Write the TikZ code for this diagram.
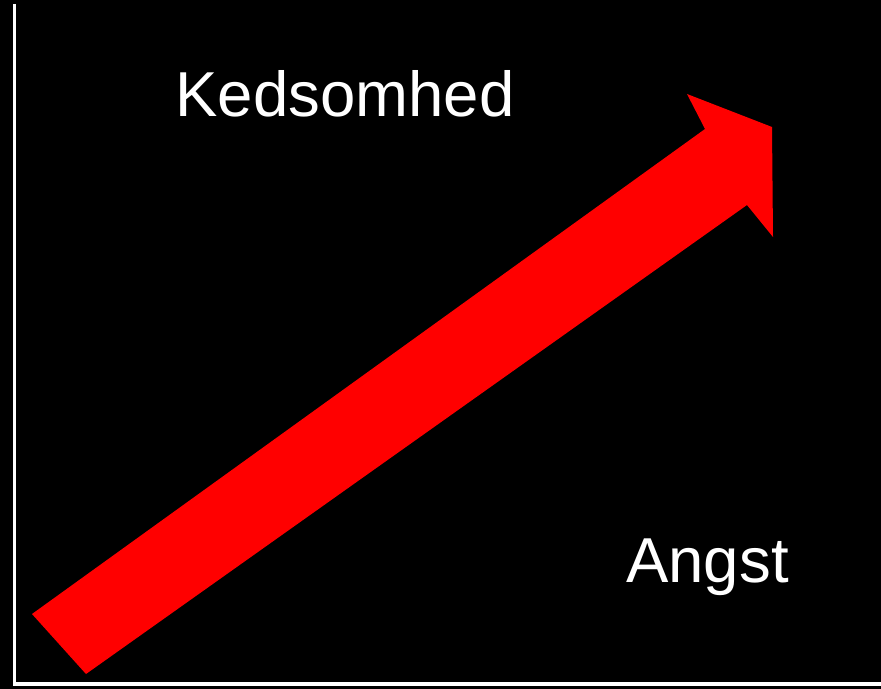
\documentclass[tikz,border=0pt]{standalone}
\usepackage{fontspec}
\setmainfont{Liberation Sans}
\begin{document}
\begin{tikzpicture}[x=1bp,y=-1bp,
  lbl/.style={text=white,anchor=base,inner sep=0pt,font=\fontsize{63.5bp}{63.5bp}\selectfont},
  axis/.style={draw=white,line width=3.6bp},
  bigarrow/.style={fill=red,draw=none}]
\fill[black] (0,0) rectangle (881,689);
\useasboundingbox (0,0) rectangle (881,689);
\coordinate (top) at (14.5,4);
\coordinate (origin) at (14.5,684);
\coordinate (right) at (881,684);
\draw[axis] (top) -- (origin) -- (right);
\fill[bigarrow] (32,614) -- (705,129) -- (687,94) -- (772,127) -- (773,237) -- (747,205) -- (86,674) -- cycle;
\node[lbl] (k) at (345,117) {Kedsomhed};
\node[lbl] (a) at (707.5,582) {Angst};
\end{tikzpicture}
\end{document}
